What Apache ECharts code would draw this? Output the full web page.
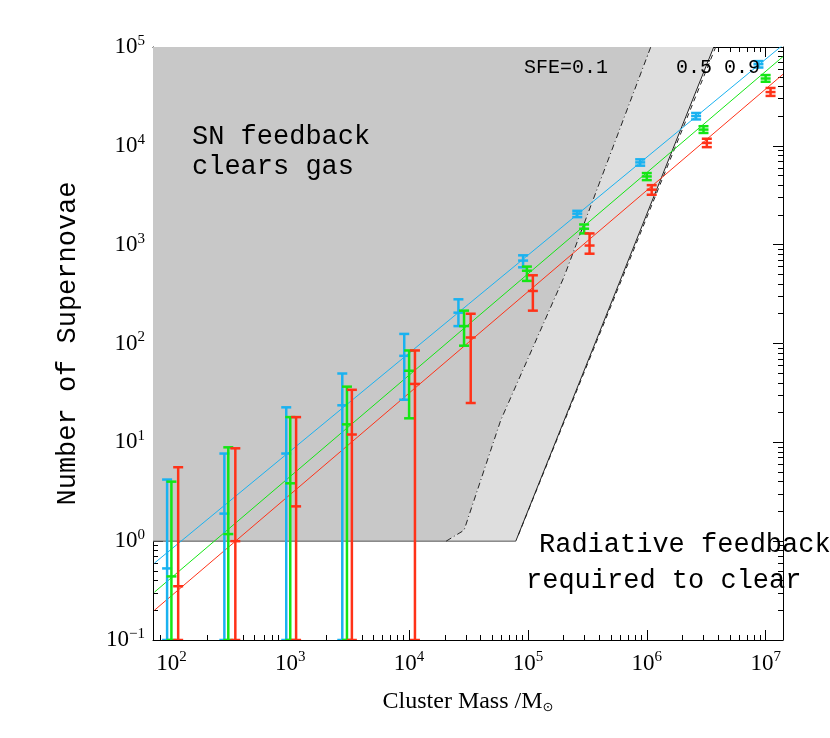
<!DOCTYPE html>
<html><head><meta charset="utf-8">
<script src="https://cdn.jsdelivr.net/npm/echarts@6/dist/echarts.min.js"></script>
<style>html,body{margin:0;padding:0;background:#fff}#c{width:830px;height:738px}</style>
</head><body><div id="c"></div>
<script>
// error bars: [mass, low, high, mid]
const blueBars = [[92,0.01,4.2,0.53],[279,0.01,7.7,1.9],[925,0.01,22.6,7.7],[2740,0.01,49.7,23.7],[9100,27,125,75],[26000,150,280,205],[91000,590,780,690],[260000,1900,2200,2060],[880000,6300,7300,6800],[2600000,18500,21500,20000],[8700000,62000,72000,67000]];
const greenBars = [[100,0.01,4.0,0.44],[301,0.01,8.9,1.18],[1000,0.01,18,3.85],[3000,0.01,36.6,15.2],[10000,17.5,85,53],[29000,95,215,150],[98000,430,600,545],[297000,1300,1600,1450],[1000000,4500,5300,4900],[3000000,13500,15800,14600],[10000000,44500,52000,48000]];
const redBars = [[114,0.01,5.6,0.35],[345,0.01,8.7,1.0],[1120,0.01,18,2.25],[3300,0.01,34,12],[11200,0.01,85,39],[33000,25,200,115],[110000,215,490,340],[330000,810,1300,980],[1100000,3200,4000,3600],[3200000,9700,11800,10700],[11000000,32000,38500,35000]];
// fitted lines
const blueLine = [[72,0.6],[14000000,105000]];
const greenLine = [[72,0.305],[14000000,80000]];
const redLine = [[72,0.2],[14000000,53000]];
// feedback regions
const dashDot = [[20500,1],[29000,1.29],[59000,16.7],[200000,464],[1080000,100000]];
const solidEdge = [[79000,1],[3660000,100000]];
const dashedEdge = [[83000,1.15],[3800000,100000]];
const xMin = 70, xMax = 14000000, yMin = 0.1, yMax = 100000;

const cBlue = '#1ab2f0', cGreen = '#14e614', cRed = '#ff3218';
function polySeries(pts, fill, z){
  return {type:'custom', z:z, clip:true, silent:true, data:[0],
    renderItem:(p,api)=>({type:'polygon', shape:{points:pts.map(q=>api.coord(q))}, style:{fill:fill}})};
}
function bars(data,color,z){
  return {type:'custom', z:z, clip:true, silent:true, data:data,
    renderItem:(p,api)=>{
      const x=api.value(0), lo=Math.max(api.value(1),yMin), hi=api.value(2), mid=api.value(3);
      const a=api.coord([x,lo]), b=api.coord([x,hi]), m=api.coord([x,mid]);
      const st={stroke:color,lineWidth:2.5};
      const w=5;
      return {type:'group',children:[
        {type:'line',shape:{x1:a[0],y1:a[1],x2:b[0],y2:b[1]},style:st},
        {type:'line',shape:{x1:a[0]-w,y1:a[1],x2:a[0]+w,y2:a[1]},style:st},
        {type:'line',shape:{x1:b[0]-w,y1:b[1],x2:b[0]+w,y2:b[1]},style:st},
        {type:'line',shape:{x1:m[0]-w,y1:m[1],x2:m[0]+w,y2:m[1]},style:st}
      ]};
    }};
}
function line(d,color,type,w,z){
  return {type:'line',data:d,symbol:'none',z:z,silent:true,lineStyle:{color:color,width:w,type:type}};
}
const lblRich = {a:{fontFamily:'Liberation Serif',fontSize:23,color:'#000'},s:{fontFamily:'Liberation Serif',fontSize:15,color:'#000',verticalAlign:'top',padding:[0,0,12,0]}};
function fmt(v){const e=Math.round(Math.log10(v));return '{a|10}{s|'+(e<0?'\u2212'+(-e):e)+'}';}
const axCommon = {type:'log',logBase:10,axisLine:{show:true,onZero:false,lineStyle:{color:'#000',width:1}},splitLine:{show:false},
  axisTick:{inside:true,length:10,lineStyle:{color:'#000'}},minorTick:{show:true,inside:true,length:5,splitNumber:9,lineStyle:{color:'#000'}}};
const chart = echarts.init(document.getElementById('c'));
chart.setOption({
  animation:false,
  grid:{left:153,right:47,top:47,bottom:98},
  xAxis:[Object.assign({},axCommon,{min:xMin,max:xMax,position:'bottom',
      axisLabel:{formatter:fmt,rich:lblRich,margin:10,showMinLabel:false,showMaxLabel:false},
      name:'Cluster Mass /M{o|\u2299}',nameLocation:'middle',nameGap:50,
      nameTextStyle:{fontFamily:'Liberation Serif',fontSize:24,color:'#000',rich:{o:{fontFamily:'DejaVu Sans',fontSize:13,verticalAlign:'bottom',padding:[10,0,0,0]}}}}),
    Object.assign({},axCommon,{min:xMin,max:xMax,position:'top',axisLabel:{show:false}})],
  yAxis:[Object.assign({},axCommon,{min:yMin,max:yMax,position:'left',
      axisLabel:{formatter:fmt,rich:lblRich,margin:8},
      name:'Number of Supernovae',nameLocation:'middle',nameGap:72,
      nameTextStyle:{fontFamily:'Liberation Mono',fontSize:27,color:'#000'}}),
    Object.assign({},axCommon,{min:yMin,max:yMax,position:'right',axisLabel:{show:false}})],
  series:[
    Object.assign(polySeries([[xMin,1]].concat(dashDot,[[xMin,yMax]]),'#c8c8c8',1)),
    Object.assign(polySeries(dashDot.concat([solidEdge[1],solidEdge[0]]),'#dedede',1)),
    line([[xMin,1],[79000,1]],'#555','solid',1,2),
    line(dashDot,'#222',[6,3,1,3],1,2),
    line(solidEdge,'#222','solid',1,2),
    line(dashedEdge,'#222',[5,4],1,2),
    line(blueLine,cBlue,'solid',1,3),
    line(greenLine,cGreen,'solid',1,3),
    line(redLine,cRed,'solid',1,3),
    bars(blueBars,cBlue,4),bars(greenBars,cGreen,4),bars(redBars,cRed,4)
  ],
  graphic:[
    {type:'text',left:192,top:122,z:10,style:{text:'SN feedback\nclears gas',font:'27px "Liberation Mono"',fill:'#000',lineHeight:30}},
    {type:'text',left:524,top:58,z:10,style:{text:'SFE=0.1',font:'20px "Liberation Mono"',fill:'#000'}},
    {type:'text',left:676,top:58,z:10,style:{text:'0.5 0.9',font:'20px "Liberation Mono"',fill:'#000'}},
    {type:'text',left:539,top:531,z:10,style:{text:'Radiative feedback',font:'27px "Liberation Mono"',fill:'#000'}},
    {type:'text',left:526,top:567,z:10,style:{text:'required to clear',font:'27px "Liberation Mono"',fill:'#000'}}
  ]
});
</script></body></html>
